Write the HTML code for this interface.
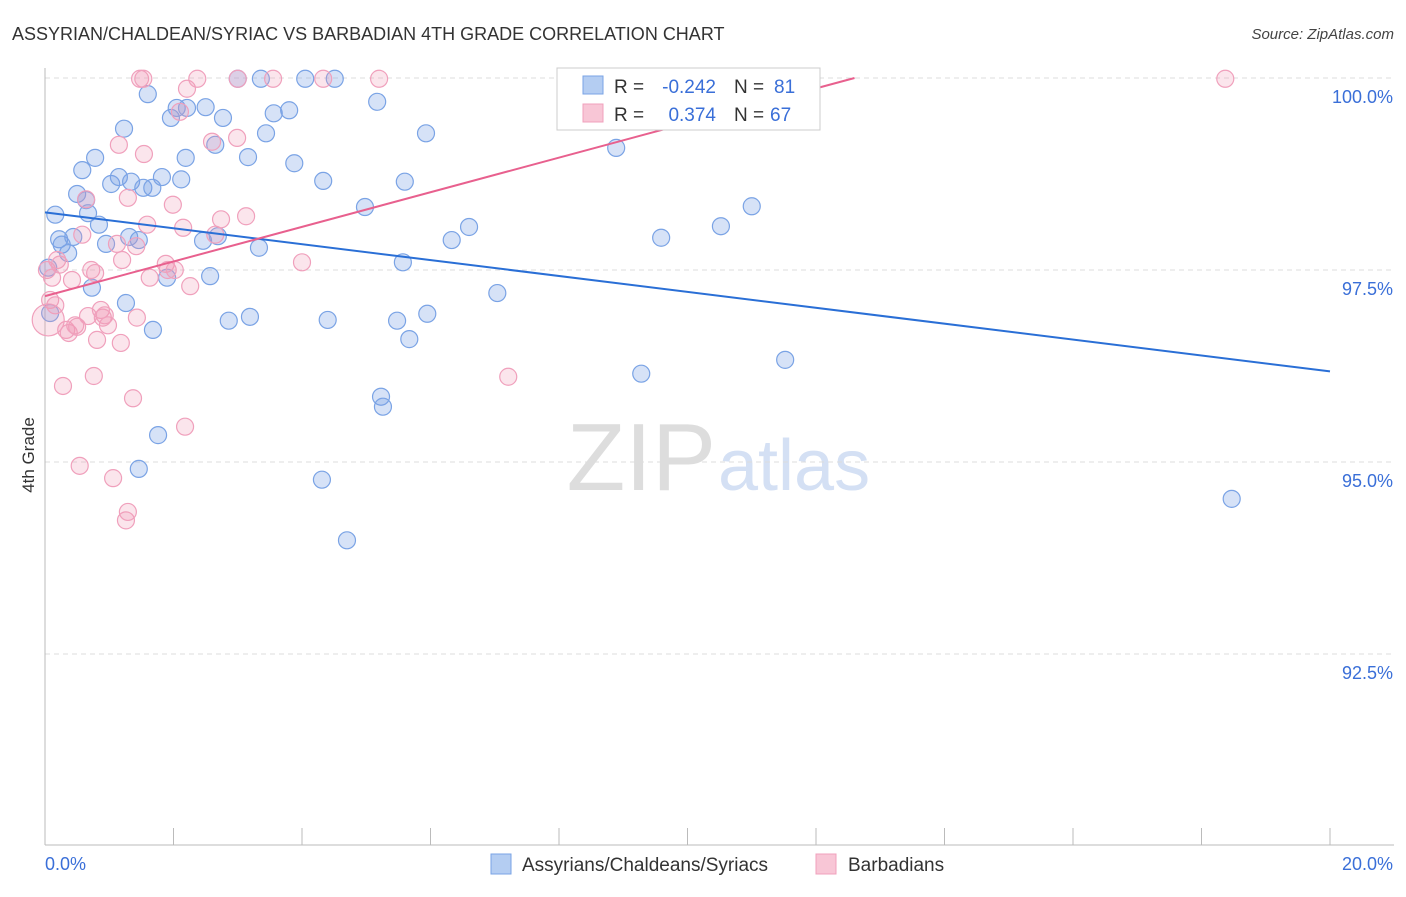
<!DOCTYPE html>
<html><head><meta charset="utf-8"><style>
body{margin:0;background:#fff;font-family:"Liberation Sans",sans-serif}
svg text{font-family:"Liberation Sans",sans-serif}
</style></head><body>
<svg id="chart" width="1406" height="892" xmlns="http://www.w3.org/2000/svg">
<text x="12" y="40" font-size="18" fill="#333">ASSYRIAN/CHALDEAN/SYRIAC VS BARBADIAN 4TH GRADE CORRELATION CHART</text>
<text x="1394" y="39" font-size="15" fill="#444" text-anchor="end" font-style="italic">Source: ZipAtlas.com</text>
<text transform="translate(34,455) rotate(-90)" font-size="17" fill="#333" text-anchor="middle">4th Grade</text>
<text x="716" y="490" font-size="96" text-anchor="end" fill="#ddd" font-family="Liberation Serif">ZIP</text>
<text x="718" y="490" font-size="72" fill="#d4e0f4">atlas</text>
<g id="grid"></g><g id="axes"></g><g id="pts"></g><g id="lines"></g>
<g>
<rect x="557" y="68" width="263" height="62" fill="#fff" stroke="#ccc"/>
<rect x="583" y="76" width="20" height="18" fill="#b4cdf2" stroke="#7aa3e5"/>
<rect x="583" y="104" width="20" height="18" fill="#f8c6d6" stroke="#f0a0bc"/>
<text x="614" y="93" font-size="19" fill="#333">R =</text>
<text x="716" y="93" font-size="19" fill="#3a6fd8" text-anchor="end">-0.242</text>
<text x="734" y="93" font-size="19" fill="#333">N =</text>
<text x="774" y="93" font-size="19" fill="#3a6fd8">81</text>
<text x="614" y="121" font-size="19" fill="#333">R =</text>
<text x="716" y="121" font-size="19" fill="#3a6fd8" text-anchor="end">0.374</text>
<text x="734" y="121" font-size="19" fill="#333">N =</text>
<text x="770" y="121" font-size="19" fill="#3a6fd8">67</text>
</g>
<g>
<rect x="491" y="854" width="20" height="20" fill="#b4cdf2" stroke="#7aa3e5"/>
<text x="522" y="871" font-size="19" fill="#333">Assyrians/Chaldeans/Syriacs</text>
<rect x="816" y="854" width="20" height="20" fill="#f8c6d6" stroke="#f0a0bc"/>
<text x="848" y="871" font-size="19" fill="#333">Barbadians</text>
</g>
</svg>
<script>
const blueX=[.16,.22,.26,.36,.44,.50,.58,.64,.67,.73,.78,.84,.95,1.03,1.15,1.23,1.26,1.34,1.31,1.46,1.53,1.60,1.67,1.68,1.76,1.82,1.90,1.96,2.05,2.12,2.19,2.21,2.46,2.50,2.57,2.65,2.69,2.77,2.86,3.00,3.16,3.19,3.33,3.36,3.44,3.56,3.80,3.88,4.05,4.31,4.33,4.40,4.51,4.70,4.98,5.17,5.23,5.26,5.48,5.57,5.60,5.67,5.93,5.95,6.33,6.60,7.04,8.89,9.28,9.59,10.52,11.00,11.52,18.47,1.46,.05,.08];
const blueY=[98.22,97.90,97.83,97.72,97.93,98.49,98.80,98.41,98.24,97.27,98.96,98.09,97.84,98.62,98.71,99.34,97.07,98.65,97.93,97.89,98.57,99.79,98.57,96.72,95.35,98.71,97.40,99.48,99.61,98.68,98.96,99.61,97.88,99.62,97.42,99.13,97.94,99.48,96.84,99.99,98.97,96.89,97.79,99.99,99.28,99.54,99.58,98.89,99.99,94.77,98.66,96.85,99.99,93.98,98.32,99.69,95.85,95.72,96.84,97.60,98.65,96.60,99.28,96.93,97.89,98.06,97.20,99.09,96.15,97.92,98.07,98.33,96.33,94.52,94.91,97.53,96.94];
const pinkX=[.03,.08,.11,.16,.19,.23,.28,.33,.37,.42,.47,.50,.54,.58,.64,.67,.72,.76,.78,.81,.87,.90,.93,.98,1.06,1.12,1.15,1.18,1.20,1.26,1.29,1.29,1.37,1.42,1.43,1.48,1.53,1.54,1.59,1.63,1.88,1.91,1.99,2.02,2.15,2.18,2.21,2.26,2.10,2.37,2.60,2.65,2.74,2.99,3.00,3.13,3.55,4.00,4.33,5.20,7.21,18.37,.05];
const pinkY=[97.50,97.11,97.40,97.04,97.63,97.57,95.99,96.72,96.68,97.37,96.78,96.76,94.95,97.96,98.42,96.90,97.50,96.12,97.46,96.59,96.98,96.88,96.91,96.78,94.79,97.84,99.13,96.55,97.63,94.24,94.35,98.44,95.83,97.81,96.88,99.99,99.99,99.01,98.09,97.40,97.58,97.50,98.35,97.50,98.05,95.46,99.86,97.29,99.56,99.99,99.17,97.96,98.16,99.22,99.99,98.20,99.99,97.60,99.99,99.99,96.11,99.99,96.85];
const blueTrend=[98.25,-0.1035];
const pinkTrend=[97.16,0.2254];
const yTicks=[100,97.5,95,92.5];
const yTickLabels=["100.0%","97.5%","95.0%","92.5%"];
const xTicks=[0,2,4,6,8,10,12,14,16,18,20];
const NS="http://www.w3.org/2000/svg";
const sx=v=>45+v*64.25, sy=v=>78+(100-v)*76.8;
function mk(t,a,p){const e=document.createElementNS(NS,t);for(const k in a)e.setAttribute(k,a[k]);p.appendChild(e);return e;}
const grid=document.getElementById('grid'),axes=document.getElementById('axes'),pts=document.getElementById('pts'),lines=document.getElementById('lines');
yTicks.forEach((v,i)=>{
 if(v!==100){
 const l=mk('line',{x1:45,x2:1394,y1:sy(v),y2:sy(v),stroke:'#ddd','stroke-dasharray':'5,4'},grid);
 
 
 }
 const t=mk('text',{x:1393,y:sy(v)+25,'font-size':18,fill:'#3a6fd8','text-anchor':'end'},axes);
 t.textContent=yTickLabels[i];
 
 
});
const topGrid=mk('line',{x1:45,x2:1394,y1:78,y2:78,stroke:'#ddd','stroke-dasharray':'5,4'},grid);


const ya=mk('line',{x1:45,x2:45,y1:68,y2:845,stroke:'#bbb'},axes);


const xa=mk('line',{x1:45,x2:1394,y1:845,y2:845,stroke:'#bbb'},axes);


xTicks.forEach(v=>{
 const l=mk('line',{x1:sx(v),x2:sx(v),y1:828,y2:845,stroke:'#bbb'},axes);
 
 
});
const xl0=mk('text',{x:45,y:870,'font-size':18,fill:'#3a6fd8'},axes);xl0.textContent='0.0%';


const xl1=mk('text',{x:1393,y:870,'font-size':18,fill:'#3a6fd8','text-anchor':'end'},axes);xl1.textContent='20.0%';


blueX.forEach((x,i)=>{
 const c=mk('circle',{cx:sx(x),cy:sy(blueY[i]),r:8.5,fill:'rgba(120,160,230,0.3)',stroke:'#7aa3e5','stroke-width':1.2},pts);
 
 
});
pinkX.forEach((x,i)=>{
 const big=i===pinkX.length-1;
 const c=mk('circle',{cx:sx(x),cy:sy(pinkY[i]),r:big?16:8.5,fill:'rgba(240,150,180,0.25)',stroke:'#f0a0bc','stroke-width':1.2},pts);
 
 
});
const bl=mk('line',{x1:sx(0),y1:sy(blueTrend[0]),x2:sx(20),y2:sy(blueTrend[0]+blueTrend[1]*20),stroke:'#2a6fd6','stroke-width':2},lines);


const pEnd=(100-pinkTrend[0])/pinkTrend[1];
const pl=mk('line',{x1:sx(0),y1:sy(pinkTrend[0]),x2:sx(pEnd),y2:sy(100),stroke:'#e8608e','stroke-width':2},lines);


</script>
</body></html>
